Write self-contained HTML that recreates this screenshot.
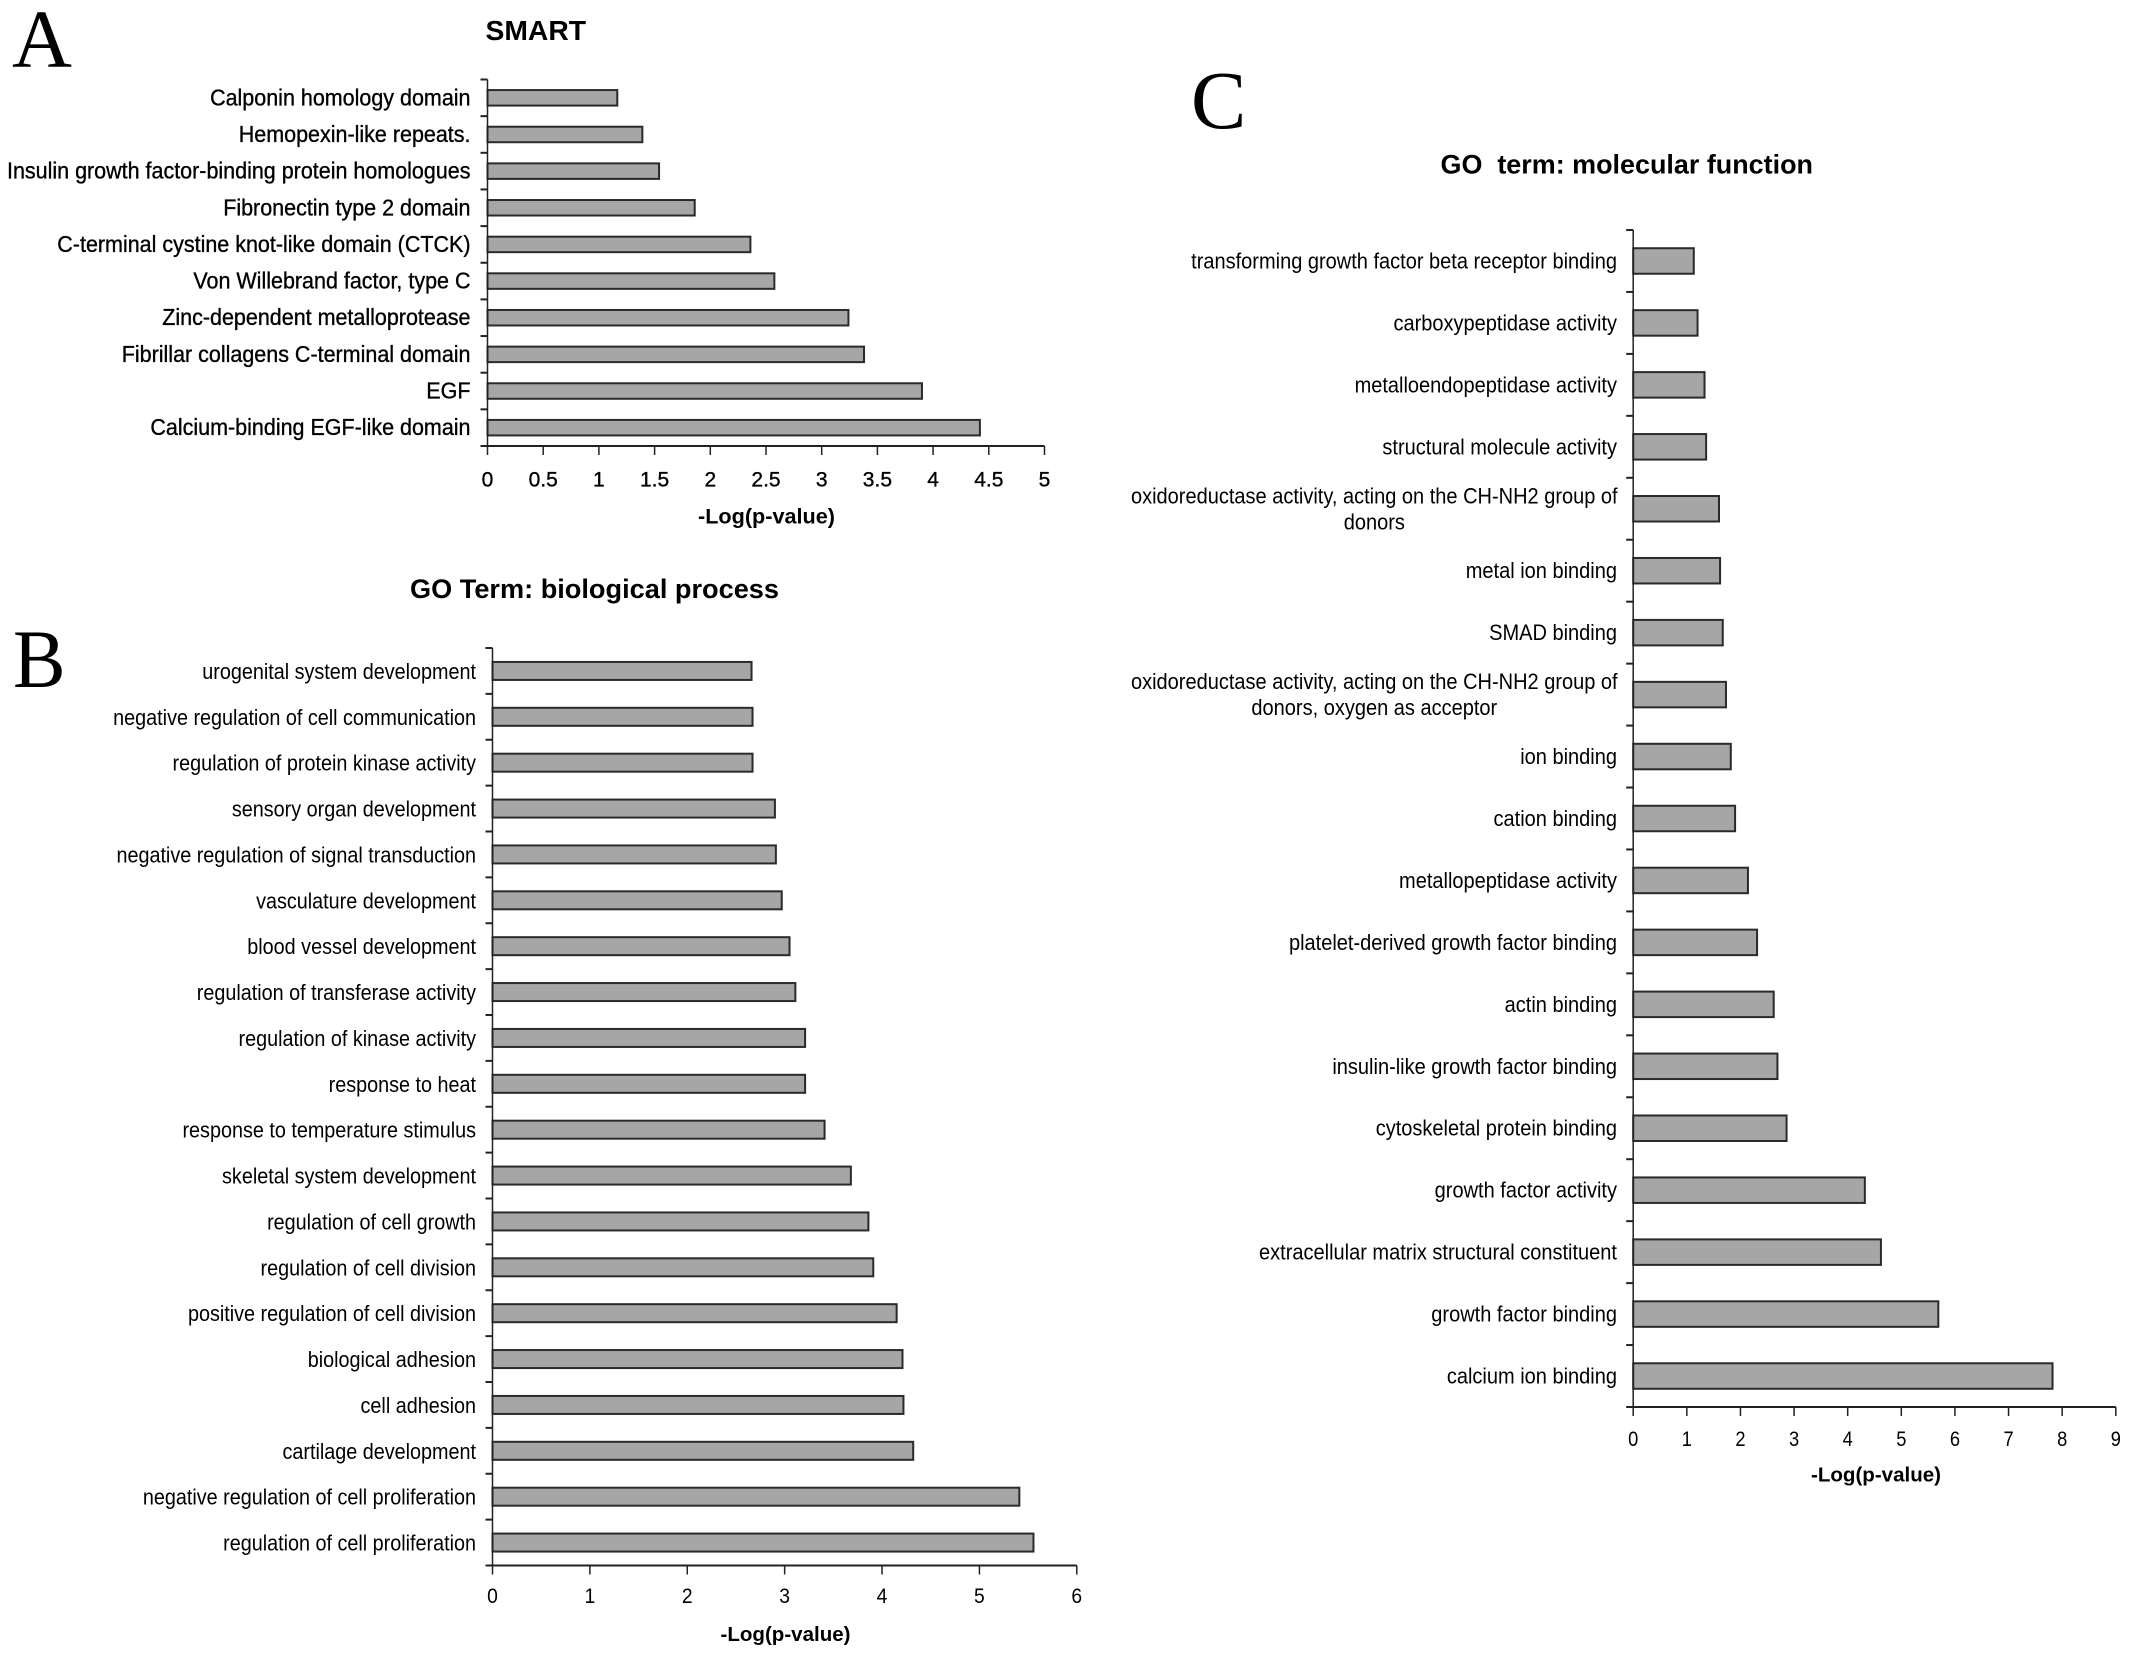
<!DOCTYPE html>
<html>
<head>
<meta charset="utf-8">
<title>Enrichment charts</title>
<style>
html,body{margin:0;padding:0;background:#fff;}
svg{display:block;}
text{font-family:"Liberation Sans",sans-serif;fill:#000;white-space:pre;}
.panel{font-family:"Liberation Serif",serif;}
</style>
</head>
<body>
<svg id="figure" xmlns="http://www.w3.org/2000/svg" width="2132" height="1656" viewBox="0 0 2132 1656">
<rect width="2132" height="1656" fill="#fff"/>
<text class="panel" x="12" y="67" font-size="83">A</text>
<text class="panel" transform="translate(13,687) scale(0.95,1)" font-size="83">B</text>
<text class="panel" x="1191" y="128" font-size="83">C</text>
</svg>
<script>
const smartCategories = ["Calponin homology domain","Hemopexin-like repeats.","Insulin growth factor-binding protein homologues","Fibronectin type 2 domain","C-terminal cystine knot-like domain (CTCK)","Von Willebrand factor, type C","Zinc-dependent metalloprotease","Fibrillar collagens C-terminal domain","EGF","Calcium-binding EGF-like domain"];
const smartValues = [1.165,1.39,1.54,1.86,2.36,2.575,3.24,3.38,3.90,4.42];
const smartTicks = [0,0.5,1,1.5,2,2.5,3,3.5,4,4.5,5];

const bioCategories = ["urogenital system development","negative regulation of cell communication","regulation of protein kinase activity","sensory organ development","negative regulation of signal transduction","vasculature development","blood vessel development","regulation of transferase activity","regulation of kinase activity","response to heat","response to temperature stimulus","skeletal system development","regulation of cell growth","regulation of cell division","positive regulation of cell division","biological adhesion","cell adhesion","cartilage development","negative regulation of cell proliferation","regulation of cell proliferation"];
const bioValues = [2.66,2.67,2.67,2.90,2.91,2.97,3.05,3.11,3.21,3.21,3.41,3.68,3.86,3.91,4.15,4.21,4.22,4.32,5.41,5.555];
const bioTicks = [0,1,2,3,4,5,6];

const molCategories = ["transforming growth factor beta receptor binding","carboxypeptidase activity","metalloendopeptidase activity","structural molecule activity","oxidoreductase activity, acting on the CH-NH2 group of\ndonors","metal ion binding","SMAD binding","oxidoreductase activity, acting on the CH-NH2 group of\ndonors, oxygen as acceptor","ion binding","cation binding","metallopeptidase activity","platelet-derived growth factor binding","actin binding","insulin-like growth factor binding","cytoskeletal protein binding","growth factor activity","extracellular matrix structural constituent","growth factor binding","calcium ion binding"];
const molValues = [1.13,1.20,1.33,1.36,1.60,1.62,1.67,1.73,1.82,1.90,2.14,2.31,2.62,2.69,2.86,4.32,4.62,5.69,7.82];
const molTicks = [0,1,2,3,4,5,6,7,8,9];

const NS = "http://www.w3.org/2000/svg";
const figure = document.getElementById("figure");

function make(parent, tag, attrs, content) {
  const el = document.createElementNS(NS, tag);
  for (const k in attrs) el.setAttribute(k, attrs[k]);
  if (content !== undefined) el.textContent = content;
  parent.appendChild(el);
  return el;
}

function drawChart(opt, categories, values, ticks) {
  const g = make(figure, "g", {});
  
  
  const xMax = ticks[ticks.length - 1];
  const xScale = v => opt.x0 + (v / xMax) * (opt.x1 - opt.x0);
  const band = (opt.y1 - opt.y0) / categories.length;
  const yCenter = i => opt.y0 + band * (i + 0.5);
  const weight = opt.stroke ? {stroke:"#000","stroke-width":opt.stroke} : {};

  const title = make(g, "text", {x:opt.titleX,y:opt.titleY,"font-size":opt.titleSize,"font-weight":"bold",textLength:opt.titleLen,lengthAdjust:"spacingAndGlyphs"}, opt.title);
  
  

  categories.forEach((label, i) => {
    const bar = make(g, "rect", {x:opt.x0,y:yCenter(i)-opt.barH/2,width:xScale(values[i])-opt.x0,height:opt.barH,fill:"#a6a6a6",stroke:"#2a2a2a","stroke-width":opt.barStroke});
    
    

    const lines = label.split("\n");
    lines.forEach((line, j) => {
      const multi = lines.length > 1;
      const lx = multi ? opt.multiCenter : opt.labelX;
      const ly = yCenter(i) + opt.labelDy + (multi ? (j - 0.5) * opt.lineGap : 0);
      const t = make(g, "text", Object.assign({transform:`translate(${lx},${ly}) scale(${opt.labelSx},1)`,"text-anchor":multi?"middle":"end","font-size":opt.labelSize}, weight), line);
      
      
    });
  });

  for (let i = 0; i <= categories.length; i++) {
    const yy = opt.y0 + band * i;
    const tick = make(g, "line", {x1:opt.x0-opt.tickLen,x2:opt.x0,y1:yy,y2:yy,stroke:"#222","stroke-width":2});
    
    
  }

  ticks.forEach(v => {
    const xx = xScale(v);
    const tick = make(g, "line", {x1:xx,x2:xx,y1:opt.y1,y2:opt.y1+opt.tickLen+2,stroke:"#222","stroke-width":1.5});
    
    
    const t = make(g, "text", Object.assign({transform:`translate(${xx},${opt.tickLabelY}) scale(${opt.tickSx},1)`,"text-anchor":"middle","font-size":opt.tickSize}, weight), String(v));
    
    
  });

  const yAxis = make(g, "line", {x1:opt.x0,x2:opt.x0,y1:opt.y0,y2:opt.y1,stroke:"#222","stroke-width":1.5});
  
  
  const xAxis = make(g, "line", {x1:opt.x0,x2:opt.x1,y1:opt.y1,y2:opt.y1,stroke:"#222","stroke-width":2});
  
  

  const xt = make(g, "text", {x:opt.xTitleX,y:opt.xTitleY,"font-size":opt.xTitleSize,"font-weight":"bold",textLength:opt.xTitleLen,lengthAdjust:"spacingAndGlyphs"}, "-Log(p-value)");
  
  
}

drawChart({name:"smart-chart",title:"SMART",titleX:485.5,titleY:40,titleSize:28,titleLen:100.5,
  x0:487.5,x1:1044.5,y0:79.5,y1:446,barH:15.5,barStroke:2,tickLen:7,
  labelX:470.5,labelSize:23,labelSx:0.935,labelDy:7.5,stroke:0.35,
  tickLabelY:486.5,tickSize:21,tickSx:1,
  xTitleX:698,xTitleY:523.5,xTitleSize:21,xTitleLen:137}, smartCategories, smartValues, smartTicks);

drawChart({name:"biological-process-chart",title:"GO Term: biological process",titleX:410,titleY:598,titleSize:27,titleLen:369,
  x0:492.5,x1:1076.8,y0:648,y1:1565.5,barH:18,barStroke:2,tickLen:7,
  labelX:476,labelSize:22,labelSx:0.9,labelDy:8,
  tickLabelY:1603,tickSize:21,tickSx:0.92,
  xTitleX:720.5,xTitleY:1641,xTitleSize:20,xTitleLen:130}, bioCategories, bioValues, bioTicks);

drawChart({name:"molecular-function-chart",title:"GO  term: molecular function",titleX:1440.5,titleY:173.5,titleSize:27,titleLen:372.5,
  x0:1633.2,x1:2115.8,y0:230,y1:1407,barH:25.5,barStroke:2,tickLen:7,
  labelX:1617,labelSize:22,labelSx:0.91,labelDy:7.5,lineGap:26,multiCenter:1374.3,
  tickLabelY:1446,tickSize:21,tickSx:0.87,
  xTitleX:1811,xTitleY:1481.5,xTitleSize:20,xTitleLen:130}, molCategories, molValues, molTicks);
</script>
</body>
</html>
